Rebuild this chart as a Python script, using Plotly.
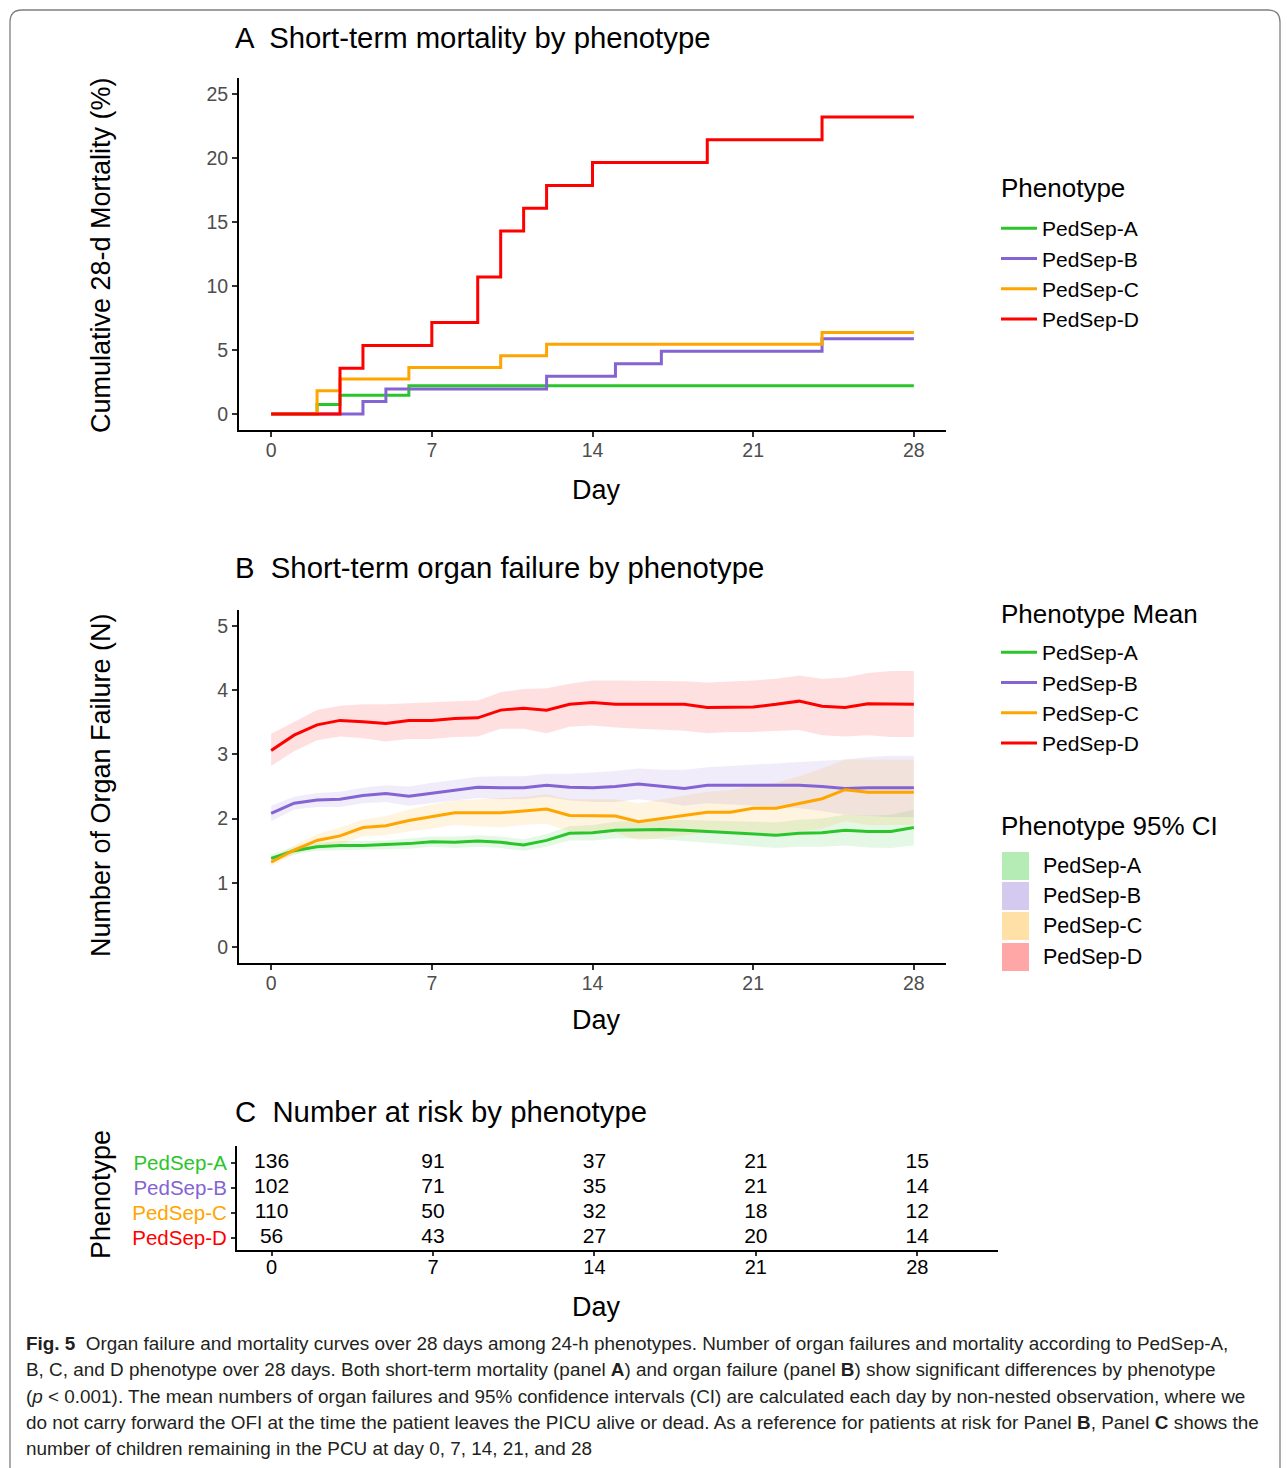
import plotly.graph_objects as go

W, H = 1287, 1468

def px(x):
    return x / W

def py(y):
    return 1 - y / H

# ---------------- data ----------------
phenotypes = ["PedSep-A", "PedSep-B", "PedSep-C", "PedSep-D"]
colors = ["#2BC52B", "#8464D2", "#FFA500", "#FF0000"]
rgb = [(43, 197, 43), (132, 100, 210), (255, 165, 0), (255, 0, 0)]

# Panel A: cumulative 28-d mortality (%), step changes
mort_days_A = [0, 2, 3, 6, 28]
mort_A = [0, 0.74, 1.47, 2.21, 2.21]
mort_days_B = [0, 4, 5, 12, 15, 17, 24, 28]
mort_B = [0, 0.98, 1.96, 2.94, 3.92, 4.90, 5.88, 5.88]
mort_days_C = [0, 2, 3, 6, 10, 12, 24, 28]
mort_C = [0, 1.82, 2.73, 3.64, 4.55, 5.45, 6.36, 6.36]
mort_days_D = [0, 3, 4, 7, 9, 10, 11, 12, 14, 19, 24, 28]
mort_D = [0, 3.57, 5.36, 7.14, 10.71, 14.29, 16.07, 17.86, 19.64, 21.43, 23.21, 23.21]

# Panel B: mean number of organ failures by day, with 95% CI
days = list(range(29))
mean_A = [1.38, 1.50, 1.56, 1.58, 1.58, 1.59, 1.61, 1.64, 1.63, 1.65, 1.63, 1.59, 1.66, 1.77, 1.78,
          1.82, 1.83, 1.83, 1.82, 1.80, 1.78, 1.76, 1.74, 1.77, 1.78, 1.82, 1.80, 1.80, 1.86]
mean_B = [2.08, 2.24, 2.29, 2.30, 2.36, 2.39, 2.35, 2.40, 2.44, 2.49, 2.48, 2.48, 2.52, 2.49, 2.48,
          2.50, 2.54, 2.51, 2.47, 2.52, 2.52, 2.52, 2.52, 2.52, 2.50, 2.47, 2.48, 2.48, 2.48]
mean_C = [1.32, 1.51, 1.66, 1.73, 1.86, 1.89, 1.97, 2.03, 2.09, 2.09, 2.09, 2.12, 2.15, 2.05, 2.05,
          2.04, 1.95, 2.00, 2.05, 2.10, 2.10, 2.16, 2.16, 2.23, 2.31, 2.45, 2.41, 2.41, 2.41]
mean_D = [3.06, 3.30, 3.46, 3.53, 3.51, 3.48, 3.53, 3.53, 3.56, 3.57, 3.69, 3.72, 3.69, 3.78, 3.81,
          3.78, 3.78, 3.78, 3.78, 3.73, 3.74, 3.74, 3.78, 3.83, 3.75, 3.73, 3.79, 3.78, 3.78]

upper_A = [1.44, 1.56, 1.62, 1.65, 1.65, 1.66, 1.69, 1.72, 1.72, 1.74, 1.72, 1.68, 1.76, 1.88, 1.90,
           1.95, 1.97, 1.98, 1.98, 1.97, 1.96, 1.95, 1.94, 1.98, 2.00, 2.06, 2.05, 2.06, 2.14]
lower_A = [1.32, 1.44, 1.50, 1.51, 1.51, 1.52, 1.53, 1.56, 1.54, 1.56, 1.54, 1.50, 1.56, 1.66, 1.66,
           1.69, 1.69, 1.68, 1.66, 1.63, 1.60, 1.57, 1.54, 1.56, 1.56, 1.58, 1.55, 1.54, 1.58]
upper_B = [2.20, 2.34, 2.40, 2.42, 2.48, 2.52, 2.50, 2.56, 2.60, 2.65, 2.66, 2.66, 2.70, 2.70, 2.72,
           2.74, 2.78, 2.76, 2.76, 2.80, 2.82, 2.84, 2.86, 2.88, 2.90, 2.92, 2.96, 2.98, 2.98]
lower_B = [1.96, 2.14, 2.18, 2.18, 2.24, 2.26, 2.20, 2.24, 2.28, 2.32, 2.30, 2.30, 2.34, 2.28, 2.26,
           2.26, 2.30, 2.26, 2.20, 2.24, 2.22, 2.20, 2.18, 2.16, 2.12, 2.06, 2.04, 2.02, 2.02]
upper_C = [1.38, 1.58, 1.76, 1.86, 1.98, 2.04, 2.14, 2.22, 2.28, 2.30, 2.32, 2.34, 2.38, 2.30, 2.30,
           2.30, 2.24, 2.30, 2.36, 2.42, 2.44, 2.52, 2.56, 2.66, 2.78, 2.92, 2.92, 2.92, 2.92]
lower_C = [1.26, 1.44, 1.56, 1.60, 1.72, 1.74, 1.80, 1.84, 1.90, 1.88, 1.86, 1.90, 1.92, 1.80, 1.80,
           1.78, 1.66, 1.70, 1.74, 1.78, 1.76, 1.80, 1.76, 1.80, 1.84, 1.96, 1.90, 1.90, 1.90]
upper_D = [3.32, 3.50, 3.69, 3.76, 3.78, 3.78, 3.80, 3.82, 3.83, 3.84, 3.97, 4.02, 4.03, 4.10, 4.15,
           4.15, 4.15, 4.15, 4.14, 4.12, 4.13, 4.15, 4.18, 4.23, 4.18, 4.20, 4.27, 4.30, 4.30]
lower_D = [2.82, 3.05, 3.22, 3.28, 3.25, 3.20, 3.24, 3.24, 3.27, 3.28, 3.40, 3.40, 3.33, 3.43, 3.45,
           3.42, 3.40, 3.38, 3.37, 3.33, 3.35, 3.35, 3.36, 3.38, 3.30, 3.28, 3.30, 3.27, 3.27]

# Panel C: number at risk
risk_days = [0, 7, 14, 21, 28]
risk_A = [136, 91, 37, 21, 15]
risk_B = [102, 71, 35, 21, 14]
risk_C = [110, 50, 32, 18, 12]
risk_D = [56, 43, 27, 20, 14]

day_ticks = [0, 7, 14, 21, 28]
mort_ticks = [0, 5, 10, 15, 20, 25]
of_ticks = [0, 1, 2, 3, 4, 5]

caption_lines = [
    "<b>Fig. 5</b>  Organ failure and mortality curves over 28 days among 24-h phenotypes. Number of organ failures and mortality according to PedSep-A,",
    "B, C, and D phenotype over 28 days. Both short-term mortality (panel <b>A</b>) and organ failure (panel <b>B</b>) show significant differences by phenotype",
    "(<i>p</i> < 0.001). The mean numbers of organ failures and 95% confidence intervals (CI) are calculated each day by non-nested observation, where we",
    "do not carry forward the OFI at the time the patient leaves the PICU alive or dead. As a reference for patients at risk for Panel <b>B</b>, Panel <b>C</b> shows the",
    "number of children remaining in the PCU at day 0, 7, 14, 21, and 28",
]

FONT = "Liberation Sans, Arial, sans-serif"
fig = go.Figure()

# ---------------- Panel A ----------------
mort_x = [mort_days_A, mort_days_B, mort_days_C, mort_days_D]
mort_y = [mort_A, mort_B, mort_C, mort_D]
for name, col, xs, ys in zip(phenotypes, colors, mort_x, mort_y):
    fig.add_trace(go.Scatter(x=xs, y=ys, mode="lines", line=dict(color=col, width=3, shape="hv"),
                             name=name, legend="legend", xaxis="x", yaxis="y"))

# ---------------- Panel B ----------------
uppers = [upper_A, upper_B, upper_C, upper_D]
lowers = [lower_A, lower_B, lower_C, lower_D]
means = [mean_A, mean_B, mean_C, mean_D]
for name, c, up, lo in zip(phenotypes, rgb, uppers, lowers):
    fig.add_trace(go.Scatter(x=days + days[::-1], y=up + lo[::-1], fill="toself",
                             fillcolor=f"rgba({c[0]},{c[1]},{c[2]},0.12)", line=dict(width=0),
                             mode="lines", showlegend=False, hoverinfo="skip",
                             xaxis="x2", yaxis="y2", name=name + " 95% CI"))
for name, col, m in zip(phenotypes, colors, means):
    fig.add_trace(go.Scatter(x=days, y=m, mode="lines", line=dict(color=col, width=3),
                             name=name, legend="legend2", xaxis="x2", yaxis="y2"))

# ---------------- Panel C ----------------
risk_rows = [risk_A, risk_B, risk_C, risk_D]
row_pos = [4, 3, 2, 1]
for vals, rp in zip(risk_rows, row_pos):
    fig.add_trace(go.Scatter(x=risk_days, y=[rp] * len(risk_days), mode="text",
                             text=[str(v) for v in vals], textposition="middle center",
                             textfont=dict(family=FONT, size=21, color="black"),
                             showlegend=False, xaxis="x3", yaxis="y3", hoverinfo="skip"))

axis_common = dict(showline=True, linewidth=2, linecolor="black", ticks="outside", ticklen=5,
                   tickwidth=1.5, tickcolor="#333333", showgrid=False, zeroline=False,
                   tickfont=dict(family=FONT, size=19.5, color="#4D4D4D"))

LEG_FONT = dict(family=FONT, size=21, color="black")
fig.update_layout(
    width=W, height=H, margin=dict(l=0, r=0, t=0, b=0),
    paper_bgcolor="white", plot_bgcolor="white",
    font=dict(family=FONT, color="black"),
    xaxis=dict(domain=[px(239), px(946)], range=[-1.4, 29.4], tickvals=day_ticks, anchor="y",
               ticklabelstandoff=-3, **axis_common),
    yaxis=dict(domain=[py(430), py(78)], range=[-1.25, 26.25], tickvals=mort_ticks, anchor="x", **axis_common),
    xaxis2=dict(domain=[px(239), px(946)], range=[-1.4, 29.4], tickvals=day_ticks, anchor="y2",
                ticklabelstandoff=-3, **axis_common),
    yaxis2=dict(domain=[py(963), py(610)], range=[-0.25, 5.25], tickvals=of_ticks, anchor="x2", **axis_common),
    xaxis3=dict(domain=[px(237), px(998)], range=[-1.5, 31.5], tickvals=day_ticks, anchor="y3",
                ticklabelstandoff=-6,
                **{**axis_common, "ticklen": 4, "tickfont": dict(family=FONT, size=20, color="black")}),
    yaxis3=dict(domain=[py(1250), py(1146)], range=[0.5, 4.66], tickvals=row_pos, anchor="x3",
                ticktext=[f'<span style="color:{c}">{n}</span>' for n, c in zip(phenotypes, colors)],
                **{**axis_common, "ticklen": 4, "tickfont": dict(family=FONT, size=20.5, color="black")}),
    legend=dict(x=px(996), y=py(208), xanchor="left", yanchor="top", bgcolor="rgba(0,0,0,0)",
                font=LEG_FONT, itemwidth=36, tracegroupgap=0),
    legend2=dict(x=px(996), y=py(632), xanchor="left", yanchor="top", bgcolor="rgba(0,0,0,0)",
                 font=LEG_FONT, itemwidth=36, tracegroupgap=0),
    showlegend=True,
)

annotations = []
# panel titles
for txt, y in [("A  Short-term mortality by phenotype", 38),
               ("B  Short-term organ failure by phenotype", 568),
               ("C  Number at risk by phenotype", 1111)]:
    annotations.append(dict(text=txt, x=px(233), y=py(y), xref="paper", yref="paper",
                            xanchor="left", yanchor="middle", showarrow=False,
                            font=dict(family=FONT, size=29.3, color="black")))
# axis titles
for txt, y in [("Day", 490), ("Day", 1020), ("Day", 1307)]:
    annotations.append(dict(text=txt, x=px(596), y=py(y), xref="paper", yref="paper",
                            xanchor="center", yanchor="middle", showarrow=False,
                            font=dict(family=FONT, size=27, color="black")))
for txt, y in [("Cumulative 28-d Mortality (%)", 255), ("Number of Organ Failure (N)", 785),
               ("Phenotype", 1195)]:
    annotations.append(dict(text=txt, x=px(101), y=py(y), xref="paper", yref="paper",
                            xanchor="center", yanchor="middle", showarrow=False, textangle=-90,
                            font=dict(family=FONT, size=27, color="black")))

# legend titles
for txt, y in [("Phenotype", 188), ("Phenotype Mean", 614), ("Phenotype 95% CI", 826)]:
    annotations.append(dict(text=txt, x=px(999), y=py(y), xref="paper", yref="paper",
                            xanchor="left", yanchor="middle", showarrow=False,
                            font=dict(family=FONT, size=26, color="black")))

# manual 95% CI legend (square swatches)
shapes = []
ci_legend_y = [866, 896, 926, 957]
for name, c, yy in zip(phenotypes, rgb, ci_legend_y):
    shapes.append(dict(type="rect", xref="paper", yref="paper", x0=px(1002), x1=px(1029),
                       y0=py(yy + 14), y1=py(yy - 14), line=dict(width=0),
                       fillcolor=f"rgba({c[0]},{c[1]},{c[2]},0.35)"))
    annotations.append(dict(text=name, x=px(1041), y=py(yy), xref="paper", yref="paper",
                            xanchor="left", yanchor="middle", showarrow=False,
                            font=dict(family=FONT, size=21.5, color="black")))

# caption
cap_y = [1343, 1369, 1396, 1422, 1448]
for line, yy in zip(caption_lines, cap_y):
    annotations.append(dict(text=line, x=px(24), y=py(yy), xref="paper", yref="paper",
                            xanchor="left", yanchor="middle", showarrow=False,
                            font=dict(family=FONT, size=18.9, color="#231F20")))

# outer rounded border
x0, x1, y0, r = px(10), px(1280), py(10), 12
path = (f"M {x0},{py(1480)} L {x0},{py(10 + r)} Q {x0},{y0} {px(10 + r)},{y0} "
        f"L {px(1280 - r)},{y0} Q {x1},{y0} {x1},{py(10 + r)} L {x1},{py(1480)}")
shapes.append(dict(type="path", path=path, xref="paper", yref="paper",
                   line=dict(color="#7F7F7F", width=1.3)))

fig.update_layout(annotations=annotations, shapes=shapes)
fig.write_html("out.html", config={"displayModeBar": False},
               post_script="document.body.style.margin='0px';document.body.style.overflow='hidden';")
